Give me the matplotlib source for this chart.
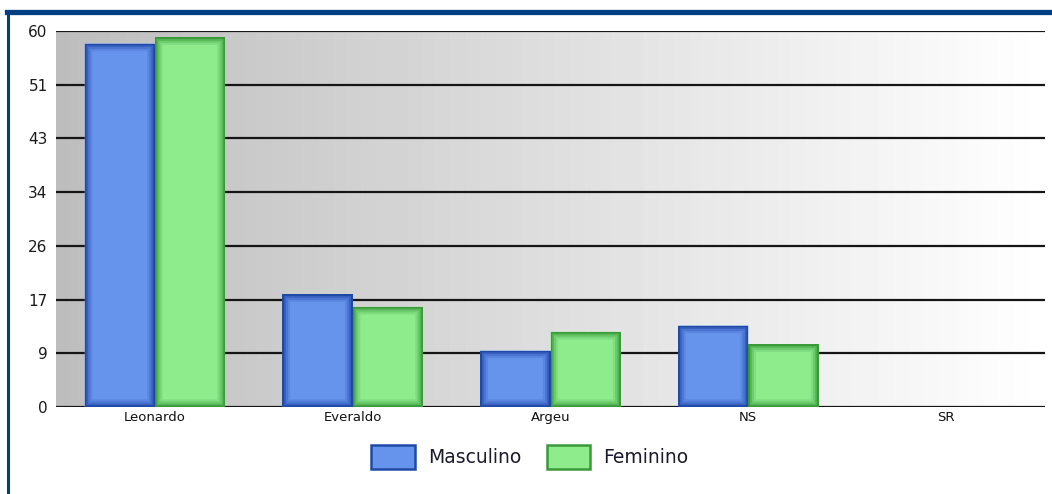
#Grouped bar chart Masculino / Feminino per name

import numpy as np
import matplotlib.pyplot as plt
from matplotlib.patches import Patch
from matplotlib.lines import Line2D

#Data
categories=['Leonardo','Everaldo','Argeu','NS','SR']
masculino=[58,18,9,13,0]
feminino=[59,16,12,10,0]
y_max=60
n_ticks=8

blue_fill='#6694ec'
blue_steps=['#5a86e0','#4a76d2','#3860c0','#1e4aa6']
green_fill='#8eec8c'
green_steps=['#80dc80','#6ccb6c','#56b656','#3a9a3a']

fig=plt.figure(figsize=(10.52,4.94),dpi=100)
ax=fig.add_axes([56/1052,1-407/494,989/1052,376/494])

#background gradient grey -> white
grad=np.linspace(0.74,1.0,256).reshape(1,-1)
ax.imshow(grad,cmap='gray',vmin=0,vmax=1,aspect='auto',
          extent=[0,len(categories),0,y_max],zorder=0)

ticks=np.linspace(0,y_max,n_ticks)
for t in ticks:
    ax.axhline(t,color='#151515',lw=1.6,zorder=1)

x=np.arange(len(categories))+0.5
w=0.355

def bevel_bars(xpos,vals,fill,steps):
    bars=ax.bar(xpos,vals,w,color=fill,edgecolor='none',linewidth=0,zorder=3)
    for p in bars:
        p.set_snap(False)
    for lw,c in zip([11,8,5,2.5],steps):
        over=ax.bar(xpos,vals,w,color='none',edgecolor=c,linewidth=lw,zorder=4)
        for p in over:
            p.set_snap(False)
            p.set_clip_path(p)
    return bars

bevel_bars(x-w/2,masculino,blue_fill,blue_steps)
bevel_bars(x+w/2,feminino,green_fill,green_steps)

ax.set_xlim(0,len(categories))
ax.set_ylim(0,y_max)
ax.set_yticks(ticks)
ax.set_yticklabels([str(int(round(t))) for t in ticks],fontsize=11,color='#1a1a1a')
ax.set_xticks(x)
ax.set_xticklabels(categories,fontsize=9.5,color='#111111')
ax.tick_params(axis='y',length=0,pad=6)
ax.tick_params(axis='x',length=0,pad=3)
for s in ax.spines.values():
    s.set_visible(False)

handles=[Patch(facecolor=blue_fill,edgecolor=blue_steps[-1],linewidth=1.8),
         Patch(facecolor=green_fill,edgecolor=green_steps[-1],linewidth=1.8)]
fig.legend(handles,['Masculino','Feminino'],loc='center',bbox_to_anchor=(530/1052,1-457/494),
           ncol=2,frameon=False,fontsize=13.5,handlelength=2.3,handleheight=1.6,
           columnspacing=1.4,handletextpad=0.7,labelcolor='#1a1a2a')

#dark blue frame (top and left)
fig.add_artist(Line2D([7/1052,1],[1-12.5/494,1-12.5/494],color='#004080',lw=3.8,transform=fig.transFigure))
fig.add_artist(Line2D([8/1052,8/1052],[0,1-12.5/494],color='#004080',lw=2.2,transform=fig.transFigure))

fig.savefig('out.png',dpi=100)
